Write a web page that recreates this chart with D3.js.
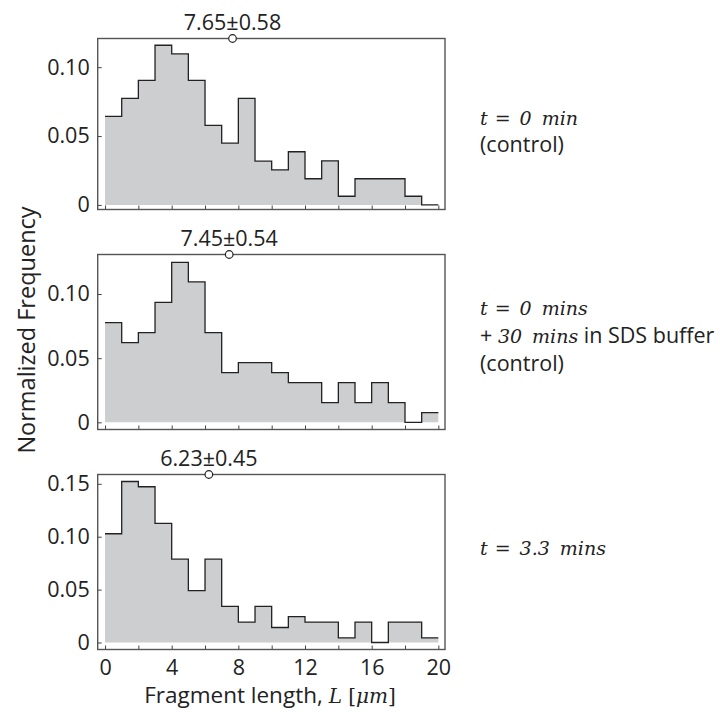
<!DOCTYPE html>
<html>
<head>
<meta charset="utf-8">
<script src="https://cdn.jsdelivr.net/npm/d3@7"></script>
<style>
  body { margin: 0; background: #fff; }
  text { font-family: "Open Sans", sans-serif; fill: #222; }
</style>
</head>
<body>
<svg id="chart" width="720" height="712"></svg>
<script>
// histogram data, bins of 1 um from 0 to 20
var binStarts = d3.range(0, 20);
var control = [0.0643, 0.0773, 0.0904, 0.1159, 0.1096, 0.0904, 0.0578, 0.0448, 0.0773, 0.0318,
               0.0255, 0.0386, 0.0190, 0.0320, 0.0063, 0.0190, 0.0190, 0.0190, 0.0063, 0];
var sdsControl = [0.0777, 0.0621, 0.0699, 0.0935, 0.1247, 0.1094, 0.0699, 0.0387, 0.0465, 0.0465,
                  0.0387, 0.0309, 0.0309, 0.0153, 0.0309, 0.0153, 0.0309, 0.0153, 0, 0.0075];
var treated = [0.1028, 0.1522, 0.1472, 0.1127, 0.0788, 0.0490, 0.0788, 0.0342, 0.0193, 0.0342,
               0.0142, 0.0244, 0.0193, 0.0193, 0.0044, 0.0193, 0, 0.0193, 0.0193, 0.0044];
var means = [7.65, 7.45, 6.23];
var meanLabels = ["7.65\u00b10.58", "7.45\u00b10.54", "6.23\u00b10.45"];
var yTicks = [[0, 0.05, 0.10], [0, 0.05, 0.10], [0, 0.05, 0.10, 0.15]];
var xTicks = d3.range(0, 21, 2);
var xTickLabels = [0, 4, 8, 12, 16, 20];

var svg = d3.select("#chart");
var serif = "'DejaVu Serif', serif";

// layout of the three stacked panels
var left = 97.7, right = 445;
var panels = [
  {data: control, top: 38.5, bottom: 209.5, ydom: [-0.0033, 0.1208]},
  {data: sdsControl, top: 254.5, bottom: 429.5, ydom: [-0.0056, 0.1308]},
  {data: treated, top: 474.5, bottom: 649.5, ydom: [-0.0066, 0.1588]}
];

var x = d3.scaleLinear().domain([-0.44, 20.4]).range([left, right]);

panels.forEach(function(p, i) {
  var y = d3.scaleLinear().domain(p.ydom).range([p.bottom, p.top]);
  var g = svg.append("g");

  // points for the step curve, repeat last value at x=20
  var pts = binStarts.map(function(b, j) { return [b, p.data[j]]; });
  pts.push([20, p.data[p.data.length - 1]]);

  var area = d3.area()
    .curve(d3.curveStepAfter)
    .x(function(d) { return x(d[0]); })
    .y0(y(0))
    .y1(function(d) { return y(d[1]); });

  var line = d3.line()
    .curve(d3.curveStepAfter)
    .x(function(d) { return x(d[0]); })
    .y(function(d) { return y(d[1]); });

  g.append("path")
    .datum(pts)
    .attr("d", area)
    .attr("fill", "#cdcecf");

  g.append("path")
    .datum(pts)
    .attr("d", line)
    .attr("fill", "none")
    .attr("stroke", "#222")
    .attr("stroke-width", 1.3);

  // axes, ticks point inwards
  var yAxis = d3.axisLeft(y)
    .tickValues(yTicks[i])
    .tickSize(-4)
    .tickSizeOuter(0)
    .tickPadding(8)
    .tickFormat(function(d) { return d === 0 ? "0" : d3.format(".2f")(d); });

  var ya = g.append("g").attr("transform", "translate(" + left + ",0)").call(yAxis);

  var xAxis = d3.axisBottom(x)
    .tickValues(xTicks)
    .tickSize(-4)
    .tickSizeOuter(0)
    .tickPadding(10)
    .tickFormat(function(d) {
      return (i === 2 && xTickLabels.indexOf(d) >= 0) ? d : "";
    });

  var xa = g.append("g").attr("transform", "translate(0," + p.bottom + ")").call(xAxis);

  [ya, xa].forEach(function(a) {
    a.select(".domain").remove();
    a.selectAll("line").attr("stroke", "#444").attr("stroke-width", 1);
    a.selectAll("text").style("font-family", "'Open Sans', sans-serif")
      .style("font-size", "21.5px").attr("fill", "#222");
  });

  // frame
  g.append("rect")
    .attr("x", left).attr("y", p.top)
    .attr("width", right - left).attr("height", p.bottom - p.top)
    .attr("fill", "none")
    .attr("stroke", "#555")
    .attr("stroke-width", 1.4);

  // mean marker on the top edge
  g.append("text")
    .attr("x", x(means[i])).attr("y", p.top - 8.5)
    .attr("text-anchor", "middle")
    .style("font-size", "21.5px")
    .text(meanLabels[i]);

  g.append("circle")
    .attr("cx", x(means[i])).attr("cy", p.top)
    .attr("r", 3.8)
    .attr("fill", "#fff")
    .attr("stroke", "#222")
    .attr("stroke-width", 1.2);
});

// condition labels on the right
function mathLabel(yPos, value) {
  var t = svg.append("text").attr("x", 480).attr("y", yPos)
    .style("font-family", serif).style("font-size", "19px");
  t.append("tspan").style("font-style", "italic").text("t");
  t.append("tspan").attr("dx", 7).text("=");
  t.append("tspan").attr("dx", 9).style("font-style", "italic")
    .style("word-spacing", "4px").text(value);
  return t;
}

mathLabel(125, "0 min");
svg.append("text").attr("x", 480).attr("y", 152).style("font-size", "21.5px").text("(control)");

mathLabel(315, "0 mins");
var plus = svg.append("text").attr("x", 480).attr("y", 343).style("font-size", "21.5px");
plus.append("tspan").text("+ ");
plus.append("tspan").style("font-family", serif).style("font-style", "italic")
  .style("font-size", "19px").style("word-spacing", "4px").text("30 mins");
plus.append("tspan").text(" in SDS buffer");
svg.append("text").attr("x", 480).attr("y", 371).style("font-size", "21.5px").text("(control)");

mathLabel(555, "3.3 mins");

// axis titles
svg.append("text")
  .attr("transform", "translate(35,330) rotate(-90)")
  .attr("text-anchor", "middle")
  .style("font-size", "23.5px")
  .text("Normalized Frequency");

var xt = svg.append("text")
  .attr("x", 270).attr("y", 703)
  .attr("text-anchor", "middle")
  .style("font-size", "22.5px");
xt.append("tspan").text("Fragment length, ");
xt.append("tspan").style("font-family", serif).style("font-style", "italic").style("font-size", "20px").text("L");
xt.append("tspan").style("font-family", serif).style("font-size", "20px").text(" [");
xt.append("tspan").style("font-family", serif).style("font-style", "italic").style("font-size", "20px").text("\u03bcm");
xt.append("tspan").style("font-family", serif).style("font-size", "20px").text("]");
</script>
</body>
</html>
